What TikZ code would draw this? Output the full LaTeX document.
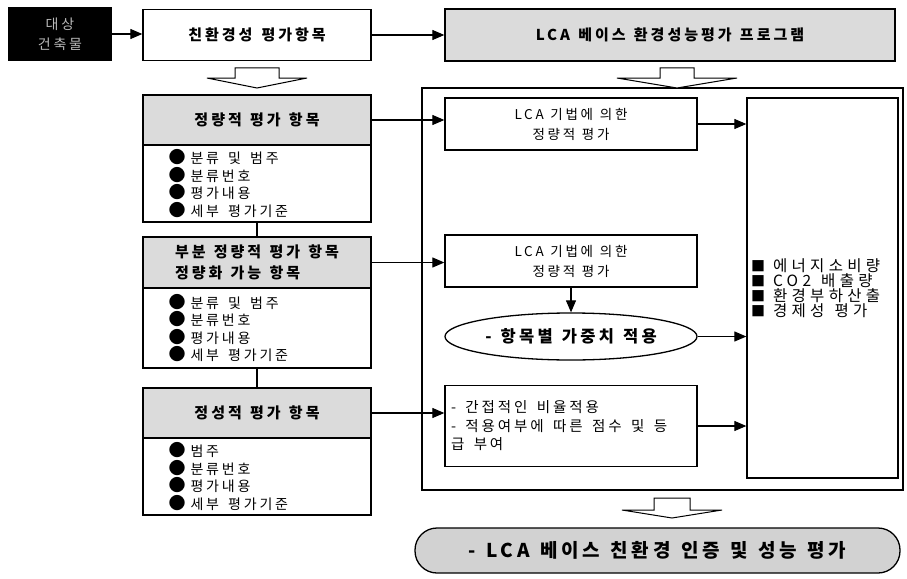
\documentclass[tikz,border=0pt]{standalone}
\usepackage{fontspec}
\setmainfont{Noto Sans CJK KR}
\newfontfamily\kr[LetterSpace=20]{Noto Sans CJK KR}
\newfontfamily\krx[LetterSpace=28]{Noto Sans CJK KR}
\usetikzlibrary{arrows.meta,shapes.geometric}
\newcommand\mybul{{\fontsize{17}{15}\selectfont ●}\hspace{5pt}}
\newcommand\mysq{{\fontsize{14}{13}\selectfont ■}\hspace{8pt}}
\newcommand\wsp[1]{\spaceskip=#1\relax}
\newcommand\gap{\hspace{0.65em}}
\tikzset{
  box/.style={draw=black, line width=1.3pt, fill=white, inner sep=0pt, align=center},
  graybox/.style={box, fill=gray!28},
  listbox/.style={draw=black, line width=1.3pt, fill=white, inner sep=0pt, align=left, text width=177pt, minimum width=228pt},
  arr/.style={line width=1.1pt, -{Triangle[length=12pt,width=10pt]}},
  conn/.style={line width=1.1pt},
  hollow/.style={draw=black, line width=1pt, fill=white},
  hdr/.style={font=\kr\bfseries\fontsize{15}{21}\selectfont\wsp{0.55em}},
  lst/.style={font=\kr\fontsize{14}{17.5}\selectfont},
}
\begin{document}
\begin{tikzpicture}[x=1pt,y=-1pt]
\useasboundingbox (0,0) rectangle (907,578);
% container
\node[draw=black, line width=1.1pt, minimum width=481pt, minimum height=402pt, inner sep=0pt] (cont) at (662.5,289) {};
% top row
\node[box, fill=black, text=gray!55, minimum width=102pt, minimum height=52pt, font=\kr\fontsize{14}{20}\selectfont] (tgt) at (60,34) {대상\\건축물};
\node[box, minimum width=228pt, minimum height=51pt, font=\kr\bfseries\fontsize{15}{20}\selectfont\wsp{0.6em}] (eco) at (257,35) {친환경성 평가항목};
\node[graybox, minimum width=450pt, minimum height=52pt, hdr] (prog) at (670,35) {LCA 베이스 환경성능평가 프로그램};
% hollow arrows
\draw[hollow] (235,68) -- (279,68) -- (279,78) -- (307,78) -- (257,88) -- (207,78) -- (235,78) -- cycle;
\draw[hollow] (660,68) -- (694,68) -- (694,78) -- (737,78) -- (677,88) -- (617,78) -- (660,78) -- cycle;
\draw[hollow] (654,498) -- (690,498) -- (690,510) -- (722,510) -- (672,518) -- (622,510) -- (654,510) -- cycle;
% left column
\node[graybox, minimum width=228pt, minimum height=50pt, hdr] (h1) at (257,120) {정량적 평가 항목};
\node[listbox, minimum height=77pt, lst] (l1) at (257,183.5) {\mybul 분류\gap 및\gap 범주\\\mybul 분류번호\\\mybul 평가내용\\\mybul 세부\gap 평가기준};
\node[graybox, minimum width=228pt, minimum height=51pt, hdr, align=left] (h2) at (257,262.5) {부분 정량적 평가 항목\\정량화 가능 항목};
\node[listbox, minimum height=80pt, lst] (l2) at (257,328) {\mybul 분류\gap 및\gap 범주\\\mybul 분류번호\\\mybul 평가내용\\\mybul 세부\gap 평가기준};
\node[graybox, minimum width=228pt, minimum height=50pt, hdr] (h3) at (257,413) {정성적 평가 항목};
\node[listbox, minimum height=77pt, lst] (l3) at (257,476.5) {\mybul 범주\\\mybul 분류번호\\\mybul 평가내용\\\mybul 세부\gap 평가기준};
\draw[conn] (l1.south) -- (h2.north);
\draw[conn] (l2.south) -- (h3.north);
% inner boxes
\node[box, minimum width=252pt, minimum height=52pt, font=\kr\fontsize{13.5}{20}\selectfont\wsp{0.5em}] (ib1) at (571,124) {LCA 기법에 의한\\정량적 평가};
\node[box, minimum width=252pt, minimum height=52pt, font=\kr\fontsize{13.5}{20}\selectfont\wsp{0.5em}] (ib2) at (571,261) {LCA 기법에 의한\\정량적 평가};
\node[draw=black, line width=1.3pt, fill=white, ellipse, inner sep=0pt, minimum width=252pt, minimum height=47pt, font=\kr\bfseries\fontsize{16.5}{21}\selectfont\wsp{0.55em}] (ell) at (571,336.5) {- 항목별 가중치 적용};
\node[box, minimum width=252pt, minimum height=81pt, align=left, text width=240pt, font=\kr\fontsize{14.5}{18.5}\selectfont] (ib3) at (571,426) {-\gap 간접적인\gap 비율적용\\-\gap 적용여부에\gap 따른\gap 점수\gap 및\gap 등\\급\gap 부여};
\node[box, minimum width=151pt, minimum height=380pt, align=left, text width=143pt, font=\krx\fontsize{15.5}{14}\selectfont] (rb) at (822.5,288) {\mysq 에너지소비량\\\mysq CO2\gap 배출량\\\mysq 환경부하산출\\\mysq 경제성\gap 평가};
% final pill
\node[draw=black, line width=1.3pt, fill=gray!35, rounded corners=22pt, minimum width=485pt, minimum height=45pt, inner sep=0pt, font=\kr\bfseries\fontsize{19}{22}\selectfont\wsp{0.55em}] (fin) at (657.5,550.5) {- LCA 베이스 친환경 인증 및 성능 평가};
% connectors
\draw[arr] (tgt.east) -- (tgt.east -| eco.west);
\draw[arr] (eco.east) -- (eco.east -| prog.west);
\draw[arr] (h1.east) -- (h1.east -| ib1.west);
\draw[arr] (h2.east) -- (h2.east -| ib2.west);
\draw[arr] (h3.east) -- (h3.east -| ib3.west);
\draw[arr] (ib1.east) -- (ib1.east -| rb.west);
\draw[arr] (ib2.south) -- (ell.north);
\draw[arr] (ell.east) -- (ell.east -| rb.west);
\draw[arr] (ib3.east) -- (ib3.east -| rb.west);
\end{tikzpicture}
\end{document}
